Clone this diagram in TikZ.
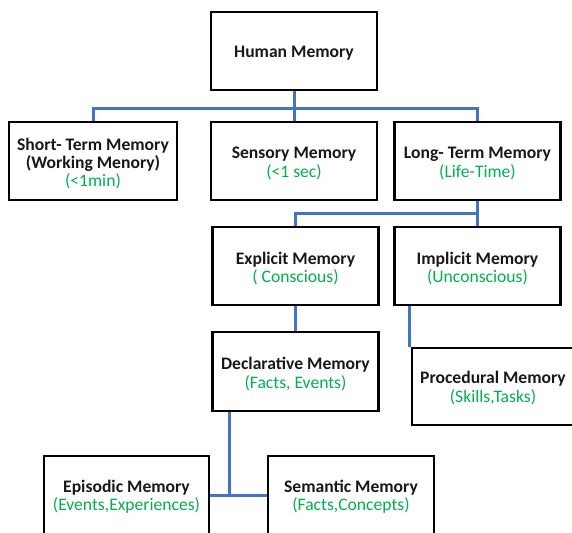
\documentclass[tikz,border=0pt]{standalone}
\usepackage{fontspec}
\setmainfont{Carlito}
\definecolor{memgreen}{RGB}{0,176,80}
\definecolor{linkblue}{RGB}{68,114,196}
\definecolor{inkblack}{RGB}{24,24,24}
\newcommand\greennote[1]{{\color{memgreen}#1}}
\begin{document}
\begin{tikzpicture}[x=1pt,y=-1pt,
  box/.style={draw=black,line width=2.4pt,rectangle,inner sep=0pt,
    minimum width=166pt,minimum height=78pt},
  boxtext/.style={inner sep=0pt,align=center,text=inkblack,
    font=\fontsize{17.6}{18.4}\selectfont},
  link/.style={draw=linkblue,line width=3pt}]
\clip (0,0) rectangle (572,532);
\useasboundingbox (0,0) rectangle (572,532);

% top level
\node[box] (human) at (294,51) {};
\node[box,minimum width=168pt] (stm) at (93,161) {};
\node[box] (sens) at (294,161) {};
\node[box] (ltm) at (477.5,161) {};

% long-term branches
\node[box] (expl) at (295.5,266) {};
\node[box] (impl) at (477.5,266) {};
\node[box,minimum height=79pt] (decl) at (295.5,371.5) {};
\node[box,minimum width=162pt,minimum height=77pt] (proc) at (493,386.5) {};

% declarative branches
\node[box,minimum width=165pt,minimum height=79pt] (epis) at (126.5,495.5) {};
\node[box,minimum height=79pt] (sem) at (351,495.5) {};

% box labels, set a little below each box centre
\node[boxtext] (humanT) at ([yshift=-2.5pt]human.center) {\textbf{Human Memory}};
\node[boxtext] (stmT) at ([yshift=-2.5pt]stm.center)
  {\textbf{Short- Term Memory}\\\textbf{(Working Menory)}\\\greennote{(<1min)}};
\node[boxtext] (sensT) at ([yshift=-2.5pt]sens.center) {\textbf{Sensory Memory}\\\greennote{(<1 sec)}};
\node[boxtext] (ltmT) at ([yshift=-2.5pt]ltm.center) {\textbf{Long- Term Memory}\\\greennote{(Life-Time)}};
\node[boxtext] (explT) at ([yshift=-2.5pt]expl.center) {\textbf{Explicit Memory}\\\greennote{( Conscious)}};
\node[boxtext] (implT) at ([yshift=-2.5pt]impl.center) {\textbf{Implicit Memory}\\\greennote{(Unconscious)}};
\node[boxtext] (declT) at ([yshift=-2.5pt]decl.center) {\textbf{Declarative Memory}\\\greennote{(Facts, Events)}};
\node[boxtext] (procT) at ([yshift=-1.5pt]proc.center) {\textbf{Procedural Memory}\\\greennote{(Skills,Tasks)}};
\node[boxtext] (episT) at ([yshift=-1pt]epis.center) {\textbf{Episodic Memory}\\\greennote{(Events,Experiences)}};
\node[boxtext] (semT) at ([yshift=-1pt]sem.center) {\textbf{Semantic Memory}\\\greennote{(Facts,Concepts)}};

% connectors
\draw[link] (human.south) -- ++(0,17) coordinate (hub1);
\draw[link] (stm.north) |- (hub1) -| (ltm.north);
\draw[link] (hub1) -- (sens.north);

\draw[link] (ltm.south) -- ++(0,12) coordinate (hub2);
\draw[link] (expl.north) |- (hub2) -- (impl.north);
\draw[link] (expl.south) -- (decl.north);
\draw[link] ([xshift=-1pt]impl.south -| proc.west) -- ([xshift=-1pt]proc.north west);

\draw[link] ([xshift=-66.5pt]decl.south) coordinate (dstem) -- (dstem |- epis.east);
\draw[link] (epis.east) -- (sem.west);
\end{tikzpicture}
\end{document}
